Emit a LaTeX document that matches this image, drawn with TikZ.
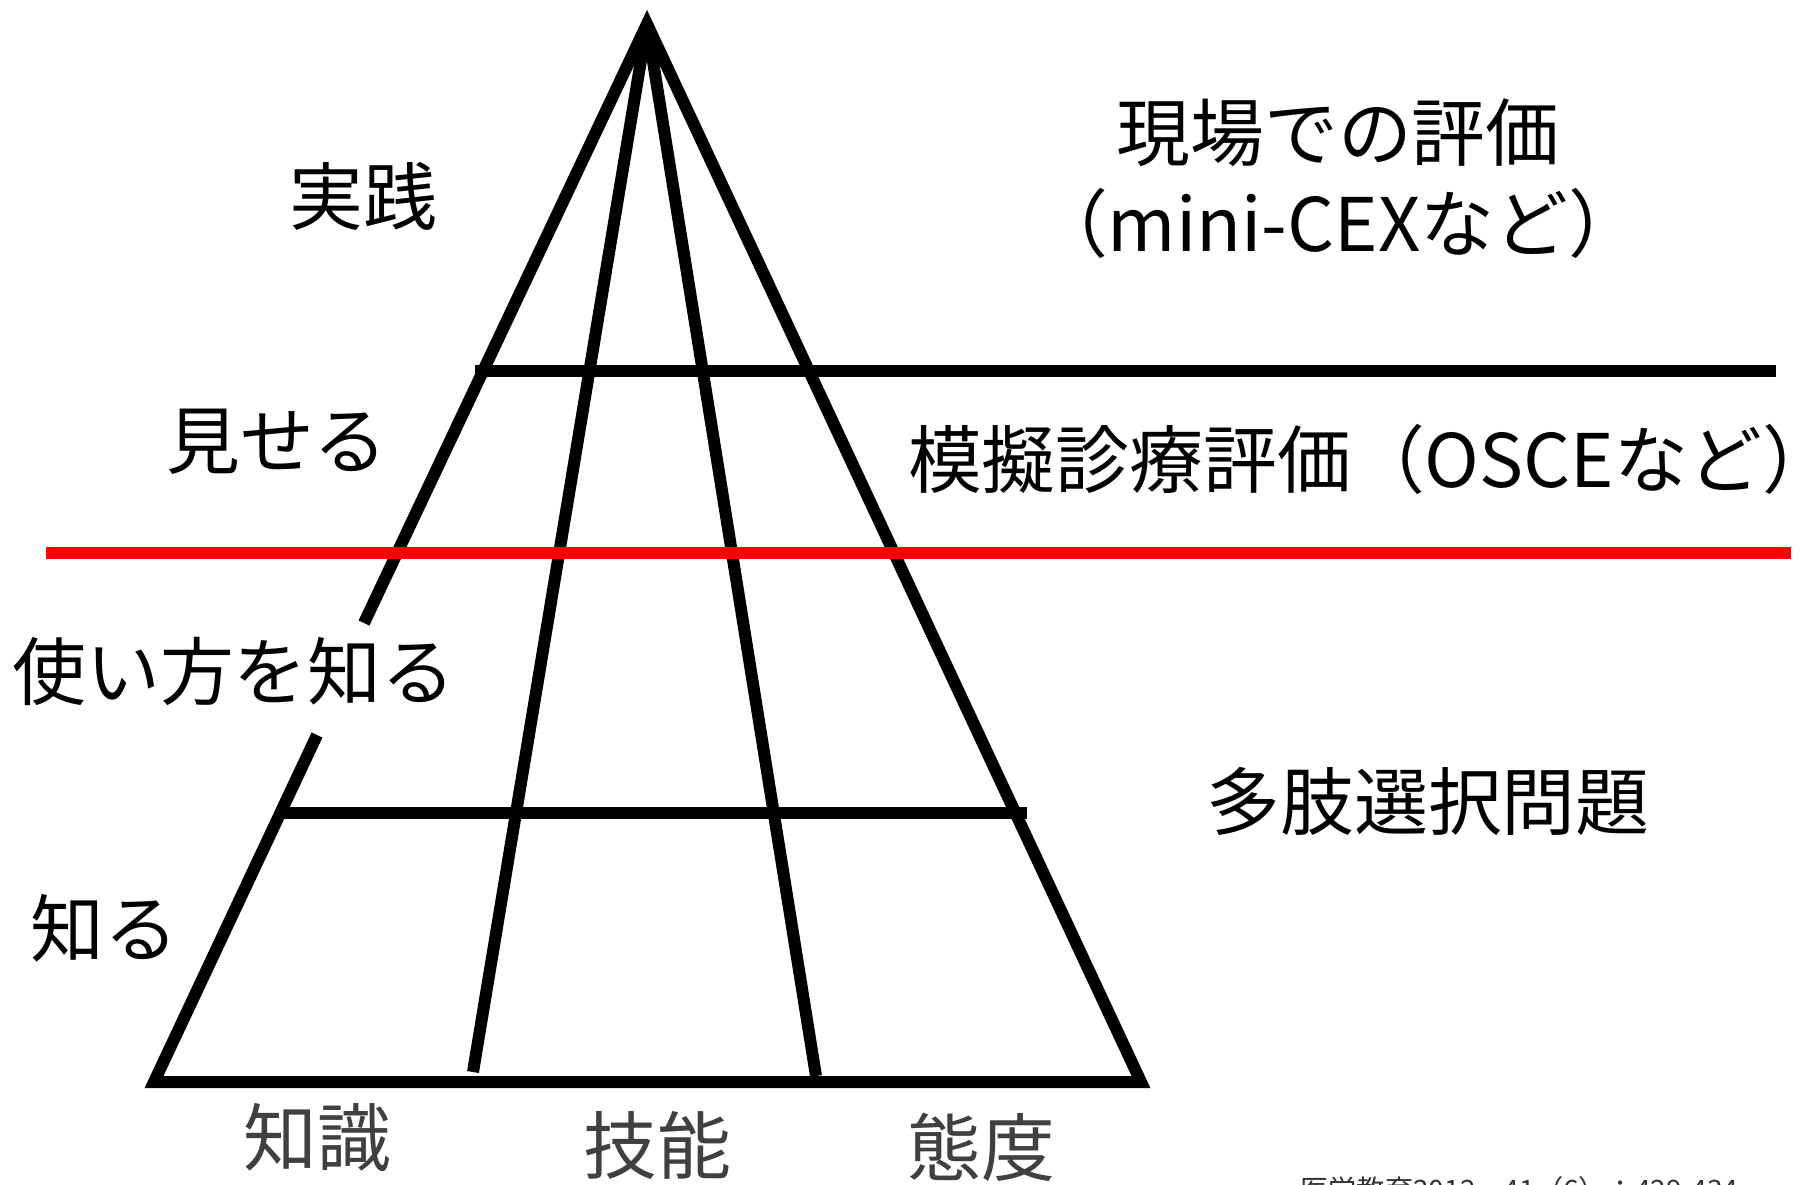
\documentclass[tikz,border=0pt]{standalone}
\usepackage{fontspec}
\setmainfont{Noto Sans CJK JP}
\begin{document}
\begin{tikzpicture}[x=0.01cm,y=-0.01cm,
  edge/.style={line width=0.12cm, line cap=butt, line join=miter, black},
  redline/.style={line width=0.12cm, red},
  lbl/.style={font=\fontsize{21pt}{25pt}\selectfont, inner sep=0pt},
  axis/.style={font=\fontsize{21pt}{25pt}\selectfont, inner sep=0pt, text=black!75},
  cite/.style={font=\fontsize{8pt}{10pt}\selectfont, inner sep=0pt, text=black!80, anchor=north west}]
\useasboundingbox (0,0) rectangle (1808,1184);
\fill[white] (0,0) rectangle (1808,1184);
% key points
\coordinate (apex) at (647,24);
\coordinate (bl) at (154,1082);
\coordinate (br) at (1141,1082);
\coordinate (gapT) at (364,623);
\coordinate (gapB) at (317,735);
\coordinate (il) at (473,1072);
\coordinate (ir) at (816,1076);
\coordinate (h1a) at (475,371);
\coordinate (h1b) at (1776,371);
\coordinate (h2a) at (277,813);
\coordinate (h2b) at (1027,813);
\coordinate (ra) at (46,553);
\coordinate (rb) at (1791,553);
% pyramid
\draw[edge] (gapB) -- (bl) -- (br) -- (apex) -- (gapT);
\draw[edge] (apex) -- (il);
\draw[edge] (apex) -- (ir);
\draw[edge] (h1a) -- (h1b);
\draw[edge] (h2a) -- (h2b);
\draw[redline] (ra) -- (rb);
% left labels
\node[lbl] (n1) at (363,196) {実践};
\node[lbl] (n2) at (277,442) {見せる};
\node[lbl] (n3) at (234,671) {使い方を知る};
\node[lbl] (n4) at (104,928) {知る};
% right labels
\node[lbl] (r1) at (1338,133) {現場での評価};
\node[lbl] (r2) at (1338,223) {（mini-CEXなど）};
\node[lbl] (r3) at (1372,459) {模擬診療評価（OSCEなど）};
\node[lbl] (r4) at (1428,801) {多肢選択問題};
% bottom labels
\node[axis] (b1) at (317,1138) {知識};
\node[axis] (b2) at (657,1145) {技能};
\node[axis] (b3) at (981,1147) {態度};
% citation (cut off by page edge, as in the reference)
\node[cite] (c) at (1300,1176) {医学教育2012，41（6）：429-434};
\end{tikzpicture}
\end{document}
